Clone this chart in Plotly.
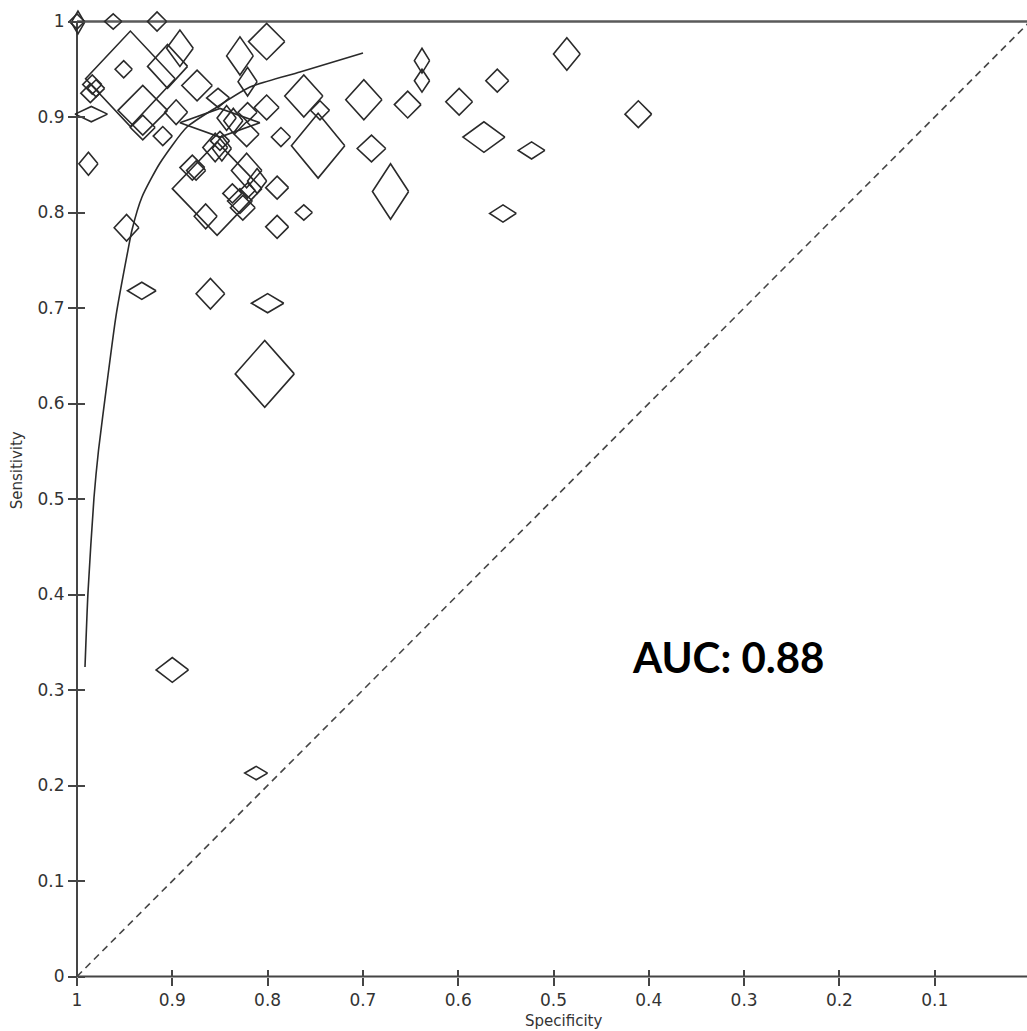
import plotly.graph_objects as go

# ---------------- data ----------------
# study points: specificity, sensitivity, half-width / half-height of each diamond (data units)
spec = [1.000, 0.999, 0.962, 0.916, 0.944, 0.931, 0.985, 0.984, 0.980, 0.986,
        0.951, 0.988, 0.948, 0.932, 0.860, 0.800, 0.803, 0.900, 0.812, 0.638,
        0.638, 0.486, 0.559, 0.599, 0.653, 0.699, 0.411, 0.573, 0.523, 0.691,
        0.671, 0.553, 0.747, 0.745, 0.762, 0.762, 0.801, 0.829, 0.821, 0.801,
        0.852, 0.821, 0.786, 0.790, 0.790, 0.865, 0.853, 0.892, 0.905, 0.874,
        0.931, 0.910, 0.896, 0.850, 0.855, 0.848, 0.843, 0.879, 0.875, 0.822,
        0.811, 0.837, 0.821, 0.829, 0.826, 0.850, 0.822, 0.836]
sens = [1.000, 0.999, 1.000, 1.000, 0.940, 0.907, 0.903, 0.934, 0.930, 0.925,
        0.950, 0.851, 0.784, 0.718, 0.715, 0.705, 0.631, 0.321, 0.213, 0.959,
        0.938, 0.966, 0.938, 0.916, 0.913, 0.918, 0.903, 0.879, 0.865, 0.867,
        0.822, 0.799, 0.870, 0.907, 0.922, 0.800, 0.979, 0.964, 0.937, 0.910,
        0.920, 0.905, 0.879, 0.826, 0.785, 0.796, 0.825, 0.972, 0.953, 0.933,
        0.889, 0.880, 0.905, 0.894, 0.868, 0.867, 0.899, 0.847, 0.844, 0.844,
        0.833, 0.820, 0.823, 0.812, 0.805, 0.875, 0.882, 0.896]
half_w = [0.008, 0.007, 0.009, 0.010, 0.047, 0.026, 0.017, 0.010, 0.009, 0.010,
          0.009, 0.010, 0.013, 0.015, 0.015, 0.017, 0.031, 0.017, 0.012, 0.008,
          0.008, 0.014, 0.012, 0.014, 0.014, 0.019, 0.014, 0.022, 0.014, 0.015,
          0.019, 0.014, 0.028, 0.010, 0.020, 0.009, 0.019, 0.014, 0.010, 0.013,
          0.012, 0.010, 0.010, 0.012, 0.012, 0.012, 0.047, 0.014, 0.021, 0.016,
          0.013, 0.010, 0.012, 0.042, 0.013, 0.010, 0.010, 0.013, 0.010, 0.016,
          0.010, 0.010, 0.008, 0.013, 0.013, 0.010, 0.013, 0.010]
half_h = [0.008, 0.012, 0.008, 0.010, 0.050, 0.026, 0.008, 0.010, 0.009, 0.010,
          0.009, 0.012, 0.014, 0.009, 0.016, 0.010, 0.035, 0.013, 0.007, 0.013,
          0.012, 0.017, 0.012, 0.014, 0.014, 0.021, 0.014, 0.016, 0.009, 0.014,
          0.029, 0.009, 0.034, 0.010, 0.022, 0.008, 0.019, 0.020, 0.015, 0.013,
          0.010, 0.010, 0.010, 0.012, 0.012, 0.013, 0.049, 0.019, 0.023, 0.016,
          0.013, 0.010, 0.013, 0.015, 0.015, 0.013, 0.013, 0.013, 0.010, 0.018,
          0.013, 0.010, 0.008, 0.013, 0.013, 0.010, 0.013, 0.013]

# SROC curve, points
curve_spec = [0.9916, 0.9885, 0.9822, 0.9774, 0.9685, 0.9591, 0.9465, 0.9423,
              0.9318, 0.9129, 0.8846, 0.8531, 0.8185, 0.7660, 0.6999]
curve_sens = [0.3241, 0.4016, 0.5010, 0.5513, 0.6215, 0.6916, 0.7607, 0.7817,
              0.8162, 0.8518, 0.8895, 0.9105, 0.9314, 0.9471, 0.9670]

tick_vals = [1.0, 0.9, 0.8, 0.7, 0.6, 0.5, 0.4, 0.3, 0.2, 0.1, 0.0]
tick_text = ["1", "0.9", "0.8", "0.7", "0.6", "0.5", "0.4", "0.3", "0.2", "0.1", "0"]

auc_label = "AUC: 0.88"
x_title = "Specificity"
y_title = "Sensitivity"

# ---------------- geometry ----------------
W, H = 1027, 1031
X1PX, X0PX = 77.0, 1030.0      # pixel of spec=1 and spec=0
Y1PX, Y0PX = 21.5, 976.5       # pixel of sens=1 and sens=0
sx = X0PX - X1PX
sy = Y0PX - Y1PX
x_left = 1 + X1PX / sx
x_right = 1 - (W - X1PX) / sx
y_top = 1 + Y1PX / sy
y_bottom = 1 - (H - Y1PX) / sy
xpos = (0 - y_bottom) / (y_top - y_bottom)
ypos = (x_left - 1) / (x_left - x_right)

LINE = "#2a2a2a"
AX = "#454545"

# ---------------- traces ----------------
dx, dy = [], []
for s, t, w, h in zip(spec, sens, half_w, half_h):
    dx += [s - w, s, s + w, s, s - w, None]
    dy += [t, t + h, t, t - h, t, None]

fig = go.Figure()

# chance line
fig.add_trace(go.Scatter(x=[1, 0], y=[0, 1], mode="lines",
                         line=dict(color=AX, width=1.6, dash="7px,5px"),
                         hoverinfo="skip", showlegend=False))
# frame lines
fig.add_trace(go.Scatter(x=[1, 0], y=[1, 1], mode="lines",
                         line=dict(color="#5a5a5a", width=2.4),
                         hoverinfo="skip", showlegend=False))
fig.add_trace(go.Scatter(x=[1, 1, 0], y=[1, 0, 0], mode="lines",
                         line=dict(color=AX, width=2),
                         hoverinfo="skip", showlegend=False))
# diamonds
fig.add_trace(go.Scatter(x=dx, y=dy, mode="lines",
                         line=dict(color=LINE, width=1.6),
                         connectgaps=False, hoverinfo="skip", showlegend=False))
# SROC curve
fig.add_trace(go.Scatter(x=curve_spec, y=curve_sens, mode="lines",
                         line=dict(color=LINE, width=1.6, shape="spline", smoothing=0.6),
                         hoverinfo="skip", showlegend=False))
# dummy trace for the inside-tick overlay axes
fig.add_trace(go.Scatter(x=[None], y=[None], xaxis="x2", yaxis="y2",
                         mode="markers", hoverinfo="skip", showlegend=False))

tickfont = dict(family="DejaVu Sans", size=17, color="#333333")
common = dict(showgrid=False, zeroline=False, showline=False,
              tickvals=tick_vals, tickcolor=AX, tickwidth=1.6)

fig.update_layout(
    width=W, height=H,
    margin=dict(l=0, r=0, t=0, b=0, autoexpand=False),
    paper_bgcolor="white", plot_bgcolor="white",
    xaxis=dict(range=[x_left, x_right], anchor="free", position=xpos,
               ticks="outside", ticklen=8, ticktext=tick_text,
               tickfont=tickfont, **common),
    yaxis=dict(range=[y_bottom, y_top], anchor="free", position=ypos,
               ticks="outside", ticklen=9, ticktext=tick_text,
               tickfont=tickfont, **common),
    xaxis2=dict(range=[x_left, x_right], overlaying="x", anchor="free",
                position=xpos, ticks="inside", ticklen=7,
                showticklabels=False, **common),
    yaxis2=dict(range=[y_bottom, y_top], overlaying="y", anchor="free",
                position=ypos, ticks="inside", ticklen=7,
                showticklabels=False, **common),
    annotations=[
        dict(text="<b>" + auc_label + "</b>", x=0.317, y=0.335, xref="x", yref="y",
             showarrow=False, font=dict(family="Lato", size=42, color="black")),
        dict(text=x_title, x=0.49, y=0, xref="x", yref="y", yanchor="top",
             yshift=-33, showarrow=False,
             font=dict(family="DejaVu Sans", size=15, color="#333333")),
        dict(text=y_title, x=1, y=0.53, xref="x", yref="y", xanchor="center",
             xshift=-60, textangle=-90, showarrow=False,
             font=dict(family="DejaVu Sans", size=15, color="#333333")),
        dict(text="0", x=0, y=0, xref="x", yref="y", yanchor="top",
             yshift=-10, showarrow=False, font=tickfont),
    ],
)

fig.write_html("out.html")
